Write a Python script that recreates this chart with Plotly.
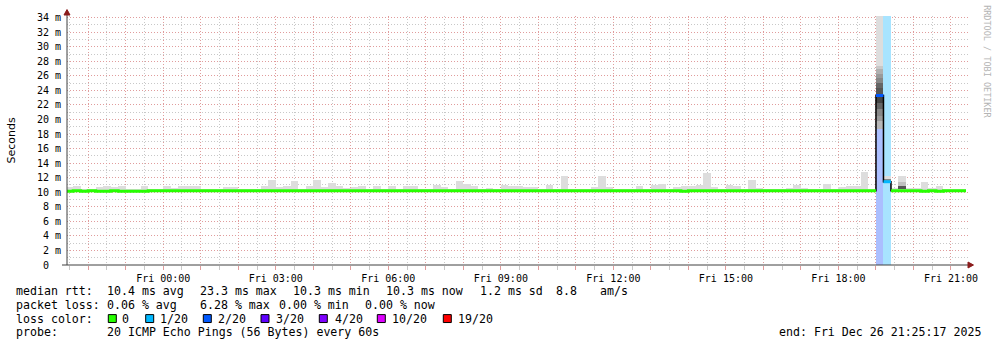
import plotly.graph_objects as go
from datetime import datetime, timedelta

# ---------------- data ----------------
slot_origin = datetime(2025, 12, 25, 21, 24)   # start of first 12-minute slot
slot_minutes = 12

# upper edge of the smoke (max rtt) per 12-min slot, milliseconds
smoke_top = [
    10.7, 10.83, 10.5, 10.5, 10.7, 10.9, 10.7, 10.9, 10.5, 10.5,
    10.9, 10.5, 10.5, 10.8, 10.6, 10.9, 10.8, 10.8, 10.5, 10.5,
    10.5, 10.7, 10.7, 10.5, 10.5, 10.5, 10.8, 11.75, 10.7, 10.8,
    11.6, 10.5, 10.9, 11.75, 10.7, 11.33, 10.9, 10.6, 10.7, 10.9,
    10.5, 10.8, 10.5, 10.83, 10.5, 10.9, 10.8, 10.5, 10.5, 11.06,
    10.7, 10.5, 11.6, 11.2, 10.8, 10.5, 10.6, 10.5, 11.06, 10.83,
    10.9, 10.7, 10.7, 10.5, 11.06, 10.5, 12.3, 10.5, 10.5, 10.5,
    10.7, 12.3, 10.7, 10.5, 10.5, 10.5, 10.83, 10.5, 11.06, 11.2,
    10.5, 10.7, 10.83, 10.83, 11.06, 12.65, 10.7, 10.5, 11.06, 10.83,
    10.5, 11.75, 10.6, 10.5, 10.5, 10.5, 10.6, 10.95, 10.6, 10.5,
    10.5, 11.2, 10.5, 10.7, 10.83, 10.8, 12.83, 10.5, 36.0, 12.3,
    10.6, 12.3, 10.6, 10.6, 11.47, 10.6, 10.83, 10.5, 10.5, 10.5,
]
# lower edge of the smoke (min rtt), milliseconds
smoke_bottom = [
    10.2, 10.2, 10.2, 10.2, 10.2, 10.2, 10.2, 10.2, 10.2, 10.2,
    10.2, 10.2, 10.2, 10.2, 10.2, 10.2, 10.2, 10.2, 10.2, 10.2,
    10.2, 10.2, 10.2, 10.2, 10.2, 10.2, 10.2, 10.2, 10.2, 10.2,
    10.2, 10.2, 10.2, 10.2, 10.2, 10.2, 10.2, 10.2, 10.2, 10.2,
    10.2, 10.2, 10.2, 10.2, 10.2, 10.2, 10.2, 10.2, 10.2, 10.2,
    10.2, 10.2, 10.2, 10.2, 10.2, 10.2, 10.2, 10.2, 10.2, 10.2,
    10.2, 10.2, 10.2, 10.2, 10.2, 10.2, 10.2, 10.2, 10.2, 10.2,
    10.2, 10.2, 10.2, 10.2, 10.2, 10.2, 10.2, 10.2, 10.2, 10.2,
    10.2, 10.2, 10.2, 10.2, 10.2, 10.2, 10.2, 10.2, 10.2, 10.2,
    10.2, 10.2, 10.2, 10.2, 10.2, 10.2, 10.2, 10.2, 10.2, 10.2,
    10.2, 10.2, 10.2, 10.2, 10.2, 10.2, 10.2, 10.2, 18.7, 11.3,
    10.2, 10.2, 10.2, 10.2, 10.2, 10.2, 10.2, 10.2, 10.2, 10.2,
]
# median rtt per slot, milliseconds
median_rtt = [
    10.15, 10.2, 10.15, 10.2, 10.15, 10.15, 10.2, 10.15, 10.15, 10.15,
    10.15, 10.2, 10.2, 10.2, 10.2, 10.2, 10.2, 10.2, 10.2, 10.2,
    10.2, 10.2, 10.2, 10.2, 10.2, 10.2, 10.2, 10.2, 10.2, 10.2,
    10.2, 10.2, 10.2, 10.2, 10.2, 10.2, 10.2, 10.2, 10.2, 10.2,
    10.2, 10.2, 10.2, 10.2, 10.2, 10.2, 10.2, 10.2, 10.2, 10.2,
    10.2, 10.2, 10.2, 10.2, 10.2, 10.2, 10.2, 10.2, 10.2, 10.2,
    10.2, 10.2, 10.2, 10.2, 10.2, 10.2, 10.2, 10.2, 10.2, 10.2,
    10.2, 10.2, 10.2, 10.2, 10.2, 10.2, 10.2, 10.2, 10.2, 10.2,
    10.2, 10.2, 10.15, 10.2, 10.2, 10.2, 10.2, 10.2, 10.2, 10.2,
    10.2, 10.2, 10.2, 10.2, 10.2, 10.2, 10.2, 10.2, 10.2, 10.2,
    10.2, 10.2, 10.2, 10.2, 10.2, 10.2, 10.2, 10.2, 23.3, 11.45,
    10.2, 10.2, 10.2, 10.2, 10.15, 10.2, 10.15, 10.2, 10.2, 10.2,
]
# slots with packet loss and their loss bucket (x/20)
loss_slots = [108, 109]
loss_per_20 = [2, 1]

# darker smoke layers (slot, lower ms, upper ms)
layer_slot = [108, 108, 108, 108, 108, 108, 108, 108, 108, 108, 108, 108, 109, 111, 111]
layer_lo = [18.7, 19.8, 20.5, 21.4, 22.3, 23.2, 23.4, 24.3, 25.0, 25.7, 26.2, 26.9, 11.3, 10.5, 10.8]
layer_hi = [19.8, 20.5, 21.4, 22.3, 23.2, 23.4, 24.3, 25.0, 25.7, 26.2, 26.9, 27.3, 11.84, 10.8, 11.4]

y_tick_values = [0, 2, 4, 6, 8, 10, 12, 14, 16, 18, 20, 22, 24, 26, 28, 30, 32, 34]

stats_rtt = ["10.4 ms avg", "23.3 ms max", "10.3 ms min", "10.3 ms now", "1.2 ms sd", "8.8", "am/s"]
stats_loss = ["0.06 % avg", "6.28 % max", "0.00 % min", "0.00 % now"]
loss_legend_labels = ["0", "1/20", "2/20", "3/20", "4/20", "10/20", "19/20"]
probe_text = "20 ICMP Echo Pings (56 Bytes) every 60s"
end_text = "end: Fri Dec 26 21:25:17 2025"

# ---------------- style ----------------
W, H = 997, 347
PL, PR, PT, PB = 67, 968, 14, 265
MONO = "DejaVu Sans Mono"
LEG_SIZE = 11.6
TXT_SHIFT = 1.5
loss_line_colors = {0: "#26ff00", 1: "#00b8ff", 2: "#0059ff"}
loss_bg_colors = {1: "#a8e4ff", 2: "#abbfff"}
legend_colors = ["#26ff00", "#00b8ff", "#0059ff", "#5e00ff", "#7e00ff", "#dd00ff", "#ff0000"]
layer_colors = ["#b8b8b8", "#9a9a9a", "#888888", "#666666", "#454545", "#454545", "#555555",
                "#666666", "#878787", "#9a9a9a", "#b0b0b0", "#c8c8c8", "#888888", "#555555", "#c0c0c0"]
smoke_color = "#dddddd"
major_grid = "#e09c9c"
minor_grid = "#c8c8c8"
axis_color = "#404040"
arrow_color = "#8b1c1c"


def px(x):
    return (x - PL) / (PR - PL)


def py(y):
    return (PB - y) / (PB - PT)


step = timedelta(minutes=slot_minutes)
n = len(smoke_top)
starts = [slot_origin + i * step for i in range(n)]
centers = [s + step / 2 for s in starts]
width_ms = slot_minutes * 60 * 1000

fig = go.Figure()

# loss background
fig.add_trace(go.Bar(
    x=[centers[i] for i in loss_slots], base=[0] * len(loss_slots),
    y=[40] * len(loss_slots), width=[width_ms] * len(loss_slots),
    marker=dict(color=[loss_bg_colors[l] for l in loss_per_20], line=dict(width=0)),
    hoverinfo="skip"))

# smoke
fig.add_trace(go.Bar(
    x=centers, base=smoke_bottom,
    y=[t - b for t, b in zip(smoke_top, smoke_bottom)],
    width=[width_ms] * n,
    marker=dict(color=smoke_color, line=dict(width=0)), hoverinfo="skip"))

fig.add_trace(go.Bar(
    x=[centers[s] for s in layer_slot], base=layer_lo,
    y=[h - l for h, l in zip(layer_hi, layer_lo)],
    width=[width_ms] * len(layer_slot),
    marker=dict(color=layer_colors, line=dict(width=0)), hoverinfo="skip"))

# black step line around loss period
first, last = min(loss_slots) - 1, max(loss_slots) + 1
bx = [starts[i] for i in range(first, last + 1)] + [starts[last] + step]
by = [median_rtt[i] for i in range(first, last + 1)] + [median_rtt[last]]
fig.add_trace(go.Scatter(x=bx, y=by, mode="lines", line=dict(color="#000000", width=1.5, shape="hv"),
                         hoverinfo="skip"))

# median coloured by loss (vertical-then-horizontal steps)
loss_of = {s: l for s, l in zip(loss_slots, loss_per_20)}
groups = {}
for i in range(n):
    l = loss_of.get(i, 0)
    xs, ys = groups.setdefault(l, ([], []))
    if xs and xs[-1] is not None and xs[-1] == starts[i]:
        xs.append(starts[i] + step)
        ys.append(median_rtt[i])
    else:
        if xs:
            xs.append(None)
            ys.append(None)
        xs.append(starts[i])
        ys.append(median_rtt[i])
        xs.append(starts[i] + step)
        ys.append(median_rtt[i])
for l, (xs, ys) in groups.items():
    fig.add_trace(go.Scatter(x=xs, y=ys, mode="lines",
                             line=dict(color=loss_line_colors[l], width=3, shape="vh"),
                             hoverinfo="skip"))

# ---------------- axes ----------------
hour_ticks = [datetime(2025, 12, 25, 22) + timedelta(hours=h) for h in range(24)]
hour_text = [t.strftime("%a %H:%M") if (t.hour % 3 == 0 and t.day == 26) else "" for t in hour_ticks]

fig.update_xaxes(
    type="date", range=[datetime(2025, 12, 25, 21, 26, 6), datetime(2025, 12, 26, 21, 27, 12)],
    tickmode="array", tickvals=hour_ticks, ticktext=hour_text,
    showgrid=True, gridcolor=major_grid, griddash="1px,2px", gridwidth=1,
    ticks="outside", ticklen=4, tickcolor=major_grid, tickwidth=1,
    minor=dict(tickmode="linear", tick0="2025-12-26 00:00", dtick=1800000, showgrid=True,
               gridcolor=minor_grid, griddash="1px,2px", gridwidth=1,
               ticks="outside", ticklen=4, tickcolor=minor_grid),
    showline=False, zeroline=False,
    tickfont=dict(family=MONO, size=10, color="#000000"))

fig.update_yaxes(
    range=[0, (PB - PT) / 7.332],
    tickmode="array", tickvals=y_tick_values,
    ticktext=[("%d m" % v) if v else "0\u00a0\u00a0" for v in y_tick_values],
    showgrid=True, gridcolor=major_grid, griddash="1px,2px", gridwidth=1,
    minor=dict(tickmode="linear", tick0=0, dtick=1, showgrid=True,
               gridcolor=minor_grid, griddash="1px,2px", gridwidth=1),
    ticks="", ticklabelstandoff=5, showline=False, zeroline=False,
    tickfont=dict(family=MONO, size=10, color="#000000"))

shapes = [
    dict(type="line", xref="paper", yref="paper", x0=px(62), x1=px(969), y0=py(265), y1=py(265),
         line=dict(color=axis_color, width=1)),
    dict(type="line", xref="paper", yref="paper", x0=px(67), x1=px(67), y0=py(265), y1=py(10),
         line=dict(color=axis_color, width=1)),
    dict(type="path", xref="paper", yref="paper",
         path="M %f,%f L %f,%f L %f,%f Z" % (px(64), py(13), px(67), py(7.5), px(70), py(13)),
         fillcolor=arrow_color, line=dict(color=arrow_color, width=1)),
    dict(type="path", xref="paper", yref="paper",
         path="M %f,%f L %f,%f L %f,%f Z" % (px(968), py(262), px(973.5), py(265), px(968), py(268)),
         fillcolor=arrow_color, line=dict(color=arrow_color, width=1)),
]

annotations = []


def text(t, x, y, anchor="left", size=LEG_SIZE, family=MONO, color="#000000", angle=0):
    if anchor == "left":
        x -= TXT_SHIFT
    elif anchor == "right":
        x += TXT_SHIFT
    annotations.append(dict(text=t, xref="paper", yref="paper", x=px(x), y=py(y),
                            xanchor=anchor, yanchor="middle", showarrow=False, textangle=angle,
                            font=dict(family=family, size=size, color=color), borderpad=0))


row_y = [291.5, 305, 319, 333]
text("median rtt:", 16, row_y[0])
for t, x in zip(stats_rtt, [107.3, 200, 293.3, 386.3, 480, 556.7, 600]):
    text(t, x, row_y[0])
text("packet loss:", 16, row_y[1])
for t, x in zip(stats_loss, [107.3, 200, 279.3, 365.7]):
    text(t, x, row_y[1])
text("loss color:", 16, row_y[2])
for lab, col, sx, lx in zip(loss_legend_labels, legend_colors,
                            [108.3, 145.7, 203.3, 261, 319.3, 377.3, 443.3],
                            [122.7, 160, 218, 276.7, 335, 392.7, 458]):
    shapes.append(dict(type="rect", xref="paper", yref="paper", x0=px(sx), x1=px(sx + 8),
                       y0=py(315), y1=py(323), fillcolor=col, line=dict(color="#000000", width=1)))
    text(lab, lx, row_y[2])
text("probe:", 16, row_y[3])
text(probe_text, 107.3, row_y[3])
text(end_text, 980, row_y[3], anchor="right")

text("Seconds", 11, 139.5, anchor="center", family="DejaVu Sans", size=11, angle=-90)
text("RRDTOOL / TOBI OETIKER", 987.5, 60, anchor="center", size=8.5, color="#b4b4b4", angle=90)

fig.update_layout(
    width=W, height=H, margin=dict(l=PL, r=W - PR, t=PT, b=H - PB, pad=0),
    paper_bgcolor="#ffffff", plot_bgcolor="#ffffff",
    showlegend=False, barmode="overlay", bargap=0,
    shapes=shapes, annotations=annotations)

fig.write_html("out.html")
